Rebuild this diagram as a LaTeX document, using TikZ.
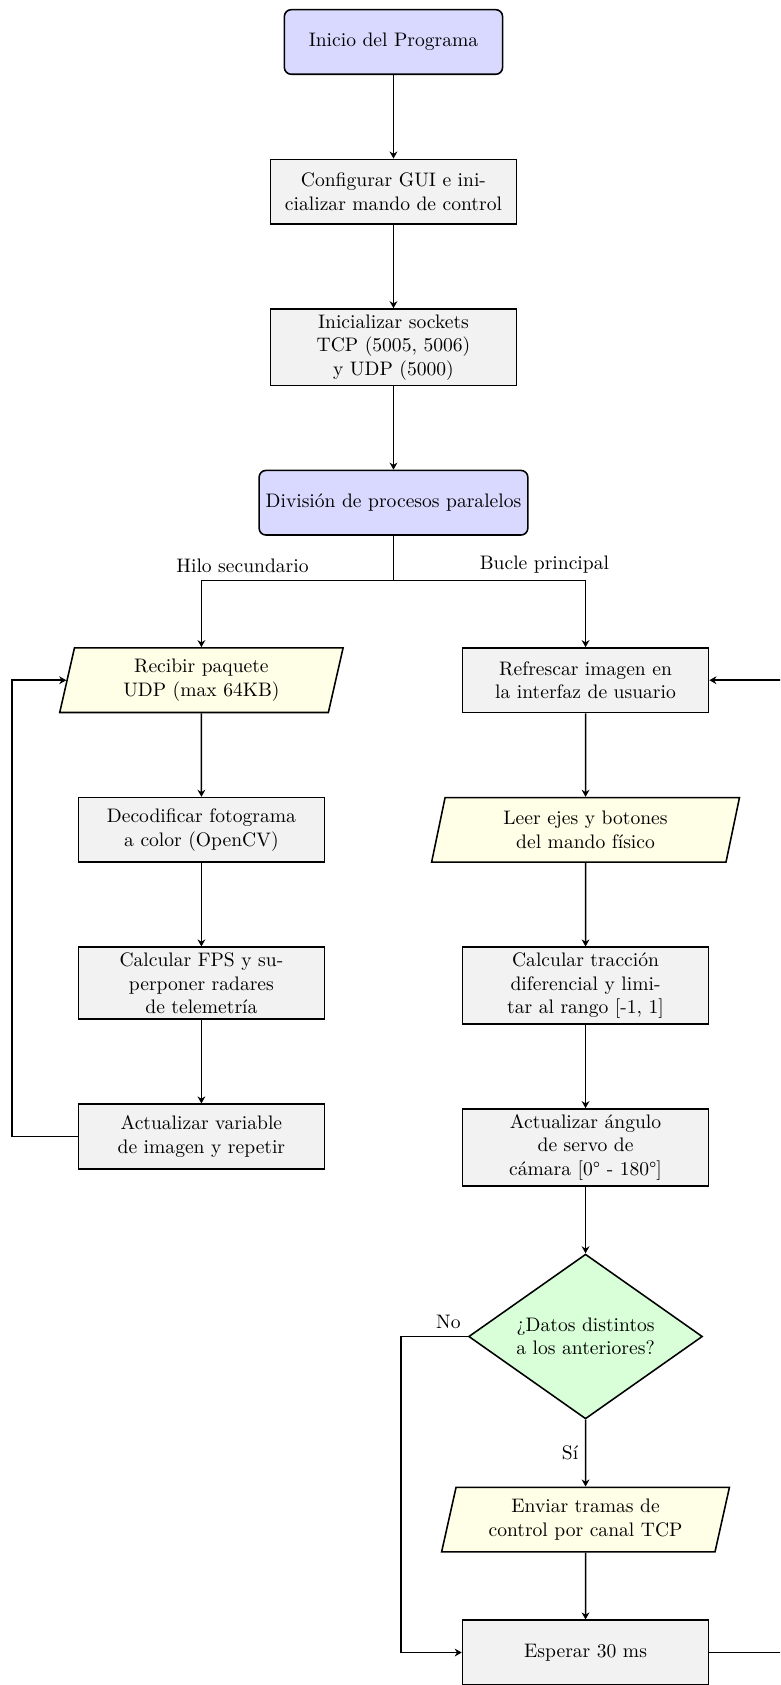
\documentclass[tikz,border=0pt]{standalone}
\usepackage{fontspec}
\usepackage{tikz}
\usetikzlibrary{arrows.meta, positioning, calc, shapes.geometric}
\colorlet{colour_start}{blue!15}
\colorlet{colour_proc}{gray!10}
\colorlet{colour_io}{yellow!10}
\colorlet{colour_dec}{green!15}

\begin{document}
\begin{tikzpicture}
   [
      node distance=1.5cm,
      startstop/.style={rectangle, rounded corners=3.5pt, draw, thick, fill=colour_start, minimum width=3.92cm, minimum height=1.16cm, align=center},
      process/.style={rectangle, draw, thick, fill=colour_proc, inner ysep=2.8pt, minimum width=4.42cm, minimum height=1.16cm, align=center},
      io/.style={trapezium, trapezium left angle=75, trapezium right angle=105, trapezium stretches body=true, draw, thick, fill=colour_io, minimum height=1.16cm, align=center},
      decision/.style={diamond, aspect=1.4, draw, thick, fill=colour_dec, inner sep=0pt, minimum width=4.2cm, minimum height=2.96cm, align=center},
      arrow/.style={thick, -{Stealth[length=3.6pt, width=4pt]}},
      link/.style={thick},
   ]

   \useasboundingbox (-7.068,0.754) rectangle (6.943,-29.513);
   \clip (-7.068,0.754) rectangle (6.943,-29.513);

   % =======================================================
   % Start and set-up
   % =======================================================

   \node[startstop] (inicio) {Inicio del Programa};
   \node[process, below=of inicio] (config) {Configurar GUI e ini-\\cializar mando de control};
   \node[process, below=of config] (sockets) {Inicializar sockets\\TCP (5005, 5006)\\y UDP (5000)};
   \node[startstop, below=of sockets] (division) {División de procesos paralelos};

   % =======================================================
   % Left column: video thread
   % =======================================================

   \node[io, below=2cm of division, xshift=-3.45cm, minimum width=5.09cm] (recibir) {Recibir paquete\\UDP (max 64KB)};
   \node[process, below=of recibir] (decod) {Decodificar fotograma\\a color (OpenCV)};
   \node[process, below=of decod] (fps) {Calcular FPS y su-\\perponer radares\\de telemetría};
   \node[process, below=of fps] (act_img) {Actualizar variable\\de imagen y repetir};

   % =======================================================
   % Right column: main loop
   % =======================================================

   \node[process, below=2cm of division, xshift=3.45cm] (refrescar) {Refrescar imagen en\\la interfaz de usuario};
   \node[io, below=of refrescar, minimum width=5.53cm] (leer) {Leer ejes y botones\\del mando físico};
   \node[process, below=of leer] (traccion) {Calcular tracción\\diferencial y limi-\\tar al rango [-1, 1]};
   \node[process, below=of traccion] (servo) {Actualizar ángulo\\de servo de\\cámara [0° - 180°]};
   \node[decision, below=1.2cm of servo] (check) {¿Datos distintos\\a los anteriores?};
   \node[io, below=1.2cm of check, minimum width=5.17cm] (enviar) {Enviar tramas de\\control por canal TCP};
   \node[process, below=1.2cm of enviar] (esperar) {Esperar 30 ms};

   % =======================================================
   % Arrows
   % =======================================================

   \draw[arrow] (inicio) -- (config);
   \draw[arrow] (config) -- (sockets);
   \draw[arrow] (sockets) -- (division);

   \coordinate[below=0.8cm of division] (split);
   \draw[link] (division.south) -- (split);
   \draw[arrow] (split) -| node[pos=0.393, above] {Hilo secundario} (recibir.north);
   \draw[arrow] (split) -| node[pos=0.393, above] {Bucle principal} (refrescar.north);

   \draw[arrow] (recibir) -- (decod);
   \draw[arrow] (decod) -- (fps);
   \draw[arrow] (fps) -- (act_img);
   \draw[arrow] (act_img.west) -- ++(-1.18,0) |- (recibir.west);

   \draw[arrow] (refrescar) -- (leer);
   \draw[arrow] (leer) -- (traccion);
   \draw[arrow] (traccion) -- (servo);
   \draw[arrow] (servo) -- (check);
   \draw[arrow] (check) -- node[left] {Sí} (enviar);
   \draw[arrow] (check.west) node[above left] {No} -- ++(-1.2,0) |- (esperar.west);
   \draw[arrow] (enviar) -- (esperar);
   \draw[arrow] (esperar.east) -- ++(1.5,0) |- (refrescar.east);

\end{tikzpicture}
\end{document}
